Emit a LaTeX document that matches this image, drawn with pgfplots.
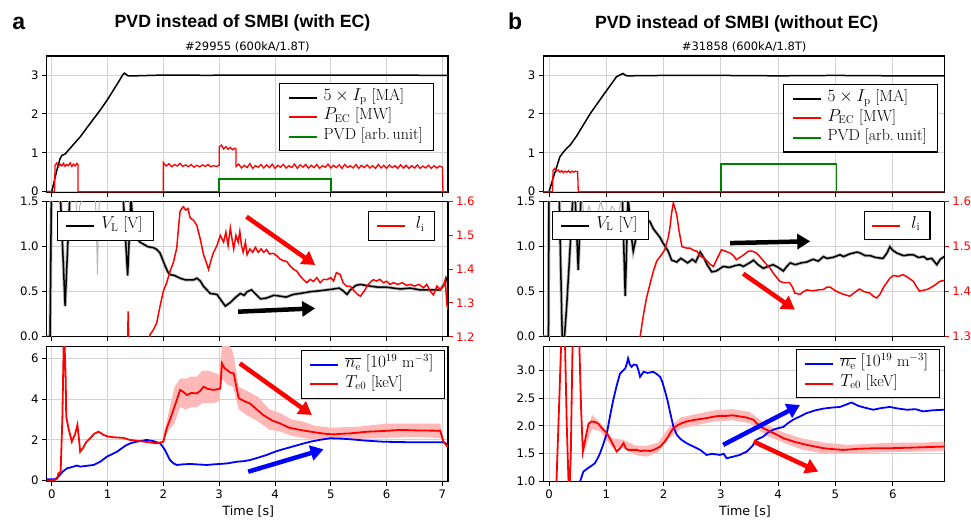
\documentclass[border=0pt]{standalone}
\usepackage{fontspec}
\setsansfont{DejaVu Sans}
\newfontfamily\titlefont{Liberation Sans}
\usepackage{pgfplots}
\usepackage{pgfplotstable}
\pgfplotsset{compat=1.18}
\usepgfplotslibrary{fillbetween}
\usetikzlibrary{arrows.meta}

% ---------------- data ----------------
\pgfplotstableread{
t v
-0.09 0
0.0 0
0.05 0.3
0.1 0.6
0.15 0.85
0.18 0.93
0.24 0.97
0.35 1.15
0.51 1.41
0.69 1.76
0.87 2.10
1.0 2.37
1.1 2.6
1.2 2.83
1.27 3.0
1.30 3.05
1.33 3.02
1.37 2.98
1.5 2.98
2.0 3.0
2.5 3.0
2.8 2.99
3.0 3.0
4.0 3.0
5.0 3.0
6.0 3.0
7.1 2.99
}\IpL
\pgfplotstableread{
t v
-0.09 0
0.05 0
0.06 0.68
0.09 0.74
0.12 0.64
0.15 0.71
0.18 0.66
0.21 0.73
0.24 0.65
0.27 0.70
0.30 0.67
0.33 0.74
0.36 0.65
0.39 0.71
0.42 0.66
0.45 0.73
0.47 0.70
0.47 0
2.0 0
2.0 0.75
2.05 0.66
2.1 0.72
2.15 0.64
2.2 0.70
2.25 0.66
2.3 0.73
2.35 0.65
2.4 0.69
2.45 0.64
2.5 0.70
2.55 0.63
2.6 0.68
2.65 0.64
2.7 0.69
2.75 0.65
2.8 0.70
2.85 0.64
2.9 0.67
2.95 0.65
3.0 0.68
3.0 1.15
3.04 1.2
3.08 1.1
3.12 1.16
3.16 1.09
3.2 1.14
3.24 1.08
3.28 1.12
3.3 1.1
3.3 0.65
3.35 0.71
3.4 0.61
3.45 0.68
3.5 0.62
3.55 0.72
3.6 0.60
3.65 0.67
3.7 0.63
3.75 0.70
3.8 0.61
3.85 0.69
3.9 0.62
3.95 0.71
4.0 0.60
4.05 0.68
4.1 0.63
4.15 0.70
4.2 0.61
4.25 0.67
4.3 0.62
4.35 0.71
4.4 0.60
4.45 0.69
4.5 0.63
4.55 0.70
4.6 0.61
4.65 0.68
4.7 0.62
4.75 0.70
4.8 0.60
4.85 0.67
4.9 0.63
4.95 0.71
5.0 0.61
5.05 0.68
5.1 0.62
5.15 0.69
5.2 0.60
5.25 0.70
5.3 0.62
5.35 0.67
5.4 0.61
5.45 0.70
5.5 0.60
5.55 0.68
5.6 0.62
5.65 0.69
5.7 0.61
5.75 0.67
5.8 0.60
5.85 0.70
5.9 0.61
5.95 0.68
6.0 0.60
6.05 0.69
6.1 0.62
6.15 0.67
6.2 0.60
6.25 0.69
6.3 0.61
6.35 0.68
6.4 0.60
6.45 0.67
6.5 0.61
6.55 0.69
6.6 0.60
6.65 0.66
6.7 0.61
6.75 0.68
6.8 0.60
6.85 0.67
6.9 0.61
6.95 0.66
7.0 0.63
7.01 0
7.1 0
}\PecL
\pgfplotstableread{
t v
2.0 0
3.0 0
3.0 0.33
5.0 0.33
5.0 0
7.1 0
}\PvdL
\pgfplotstableread{
t v
-0.02 0
0.0 0
0.08 0.39
0.19 0.9
0.24 1.0
0.31 1.12
0.37 1.2
0.49 1.45
0.6 1.72
0.72 2.01
0.95 2.49
1.18 2.96
1.29 3.04
1.33 3.0
1.36 2.98
2 2.99
3 2.99
4 2.98
5 2.99
6 2.98
6.9 2.98
}\IpR
\pgfplotstableread{
t v
-0.1 0
0.06 0
0.07 0.55
0.10 0.60
0.13 0.53
0.16 0.56
0.19 0.50
0.22 0.54
0.25 0.49
0.28 0.53
0.31 0.50
0.34 0.54
0.37 0.49
0.40 0.53
0.43 0.50
0.46 0.53
0.50 0.51
0.51 0
6.9 0
}\PecR
\pgfplotstableread{
t v
2.0 0
3.0 0
3.0 0.71
5.02 0.71
5.02 0
6.9 0
}\PvdR
% loop voltage, left
\pgfplotstableread{
t v
-0.1 0
-0.03 0
0.0 2.0
0.08 1.8
0.16 1.5
0.24 0.34
0.32 1.5
0.40 1.9
0.8 1.8
1.28 1.55
1.36 0.68
1.42 1.55
1.46 1.2
1.52 1.10
1.58 1.05
1.64 1.03
1.72 1.0
1.82 0.99
1.88 0.97
1.94 0.93
2.03 0.79
2.08 0.72
2.12 0.69
2.2 0.68
2.3 0.65
2.4 0.63
2.54 0.63
2.6 0.65
2.66 0.62
2.72 0.56
2.84 0.48
2.96 0.47
3.04 0.40
3.11 0.34
3.2 0.38
3.3 0.44
3.38 0.48
3.45 0.46
3.5 0.50
3.58 0.52
3.66 0.47
3.74 0.42
3.85 0.43
3.98 0.46
4.1 0.45
4.2 0.44
4.33 0.47
4.45 0.48
4.63 0.50
4.8 0.51
4.93 0.52
5.05 0.53
5.15 0.54
5.22 0.51
5.29 0.47
5.35 0.52
5.45 0.57
5.53 0.58
5.63 0.57
5.73 0.56
5.85 0.55
6.0 0.55
6.12 0.54
6.25 0.53
6.42 0.54
6.6 0.52
6.8 0.52
6.96 0.52
7.05 0.6
7.08 0.65
7.1 0.67
}\VlL
\pgfplotstableread{
t v
1.30 1.1
1.35 1.1
1.37 1.275
1.39 1.1
1.70 1.1
1.76 1.206
1.82 1.22
1.88 1.24
1.94 1.29
2.0 1.335
2.06 1.36
2.12 1.394
2.18 1.42
2.24 1.463
2.27 1.52
2.30 1.572
2.33 1.58
2.36 1.585
2.40 1.575
2.44 1.58
2.48 1.552
2.54 1.545
2.6 1.53
2.66 1.49
2.72 1.443
2.77 1.42
2.81 1.399
2.86 1.43
2.9 1.45
2.96 1.47
3.02 1.50
3.08 1.48
3.12 1.51
3.16 1.47
3.2 1.522
3.23 1.49
3.26 1.46
3.3 1.50
3.34 1.48
3.37 1.512
3.40 1.47
3.43 1.45
3.47 1.48
3.5 1.443
3.55 1.46
3.6 1.45
3.65 1.465
3.7 1.45
3.75 1.46
3.8 1.45
3.85 1.458
3.9 1.445
3.97 1.447
4.03 1.44
4.09 1.43
4.15 1.425
4.21 1.423
4.27 1.41
4.33 1.40
4.39 1.394
4.45 1.38
4.51 1.369
4.57 1.36
4.63 1.37
4.69 1.364
4.75 1.375
4.81 1.36
4.87 1.37
4.93 1.369
5.0 1.375
5.05 1.365
5.1 1.39
5.17 1.384
5.22 1.36
5.28 1.35
5.35 1.349
5.42 1.335
5.48 1.325
5.53 1.32
5.6 1.335
5.65 1.35
5.7 1.36
5.76 1.369
5.82 1.365
5.88 1.37
5.94 1.36
6.0 1.364
6.06 1.355
6.12 1.36
6.2 1.355
6.28 1.36
6.36 1.352
6.42 1.355
6.5 1.35
6.58 1.355
6.66 1.345
6.72 1.355
6.78 1.335
6.84 1.324
6.9 1.35
6.96 1.34
7.02 1.35
7.05 1.369
7.08 1.295
7.1 1.28
}\LiL
\pgfplotstableread{
t v
-0.1 0
-0.01 0
0.0 1.9
0.1 1.7
0.18 1.5
0.23 0
0.27 0.0
0.31 0.36
0.36 0.9
0.42 1.6
0.46 1.5
0.51 0.74
0.56 1.6
0.9 1.7
1.28 1.55
1.33 0.45
1.38 1.55
1.44 1.1
1.47 0.95
1.53 1.13
1.58 1.2
1.65 1.32
1.70 1.3
1.76 1.28
1.82 1.2
1.88 1.15
1.94 1.1
1.99 1.04
2.08 0.95
2.14 0.85
2.23 0.83
2.30 0.87
2.35 0.85
2.42 0.82
2.5 0.86
2.56 0.83
2.64 0.94
2.70 0.88
2.76 0.8
2.84 0.72
2.92 0.73
3.04 0.78
3.15 0.77
3.25 0.79
3.33 0.80
3.39 0.78
3.5 0.82
3.57 0.85
3.65 0.80
3.74 0.76
3.82 0.78
3.91 0.80
4.0 0.77
4.09 0.73
4.15 0.78
4.21 0.82
4.3 0.80
4.4 0.82
4.5 0.83
4.61 0.86
4.7 0.84
4.79 0.89
4.85 0.87
4.95 0.88
5.08 0.91
5.14 0.89
5.25 0.92
5.38 0.94
5.43 0.93
5.52 0.90
5.61 0.9
5.7 0.88
5.83 0.87
5.9 0.93
5.95 1.0
6.0 0.96
6.07 0.93
6.19 0.9
6.28 0.91
6.36 0.91
6.45 0.88
6.54 0.89
6.6 0.86
6.68 0.87
6.77 0.80
6.83 0.86
6.9 0.89
}\VlR
\pgfplotstableread{
t v
1.50 1.25
1.59 1.3
1.65 1.35
1.70 1.385
1.76 1.416
1.82 1.445
1.88 1.468
1.95 1.48
2.02 1.493
2.08 1.52
2.11 1.542
2.14 1.575
2.17 1.597
2.20 1.585
2.23 1.57
2.27 1.535
2.32 1.50
2.40 1.497
2.46 1.497
2.52 1.492
2.58 1.49
2.64 1.479
2.70 1.475
2.76 1.468
2.82 1.46
2.87 1.456
2.94 1.475
3.01 1.493
3.08 1.49
3.16 1.486
3.22 1.48
3.27 1.471
3.33 1.476
3.40 1.482
3.48 1.49
3.55 1.49
3.62 1.486
3.70 1.475
3.80 1.46
3.86 1.452
3.91 1.442
3.97 1.432
4.03 1.423
4.1 1.42
4.2 1.42
4.25 1.41
4.29 1.397
4.38 1.394
4.44 1.40
4.50 1.404
4.6 1.402
4.7 1.404
4.79 1.405
4.85 1.41
4.91 1.41
5.0 1.402
5.08 1.397
5.17 1.393
5.25 1.39
5.33 1.398
5.42 1.406
5.5 1.40
5.6 1.397
5.66 1.39
5.72 1.386
5.78 1.395
5.84 1.41
5.89 1.419
5.95 1.43
6.01 1.436
6.1 1.434
6.18 1.438
6.26 1.432
6.36 1.423
6.42 1.41
6.47 1.401
6.53 1.403
6.6 1.405
6.65 1.408
6.74 1.415
6.82 1.423
6.9 1.425
}\LiR
% density and temperature, left
\pgfplotstableread{
t v
-0.09 0.07
0.06 0.07
0.12 0.2
0.2 0.45
0.27 0.6
0.35 0.66
0.45 0.74
0.51 0.69
0.6 0.72
0.75 0.77
0.87 0.93
0.99 1.18
1.08 1.3
1.17 1.42
1.26 1.6
1.34 1.75
1.43 1.85
1.52 1.91
1.61 1.95
1.70 2.0
1.82 1.94
1.94 1.83
1.98 1.7
2.03 1.5
2.08 1.22
2.12 1.01
2.18 0.85
2.24 0.77
2.35 0.80
2.48 0.82
2.6 0.8
2.78 0.77
2.9 0.80
3.02 0.82
3.15 0.85
3.32 0.93
3.45 0.96
3.55 1.01
3.7 1.13
3.85 1.26
4.0 1.42
4.09 1.5
4.21 1.59
4.4 1.74
4.63 1.91
4.8 2.0
4.99 2.08
5.2 2.06
5.35 2.03
5.6 1.97
5.94 1.91
6.3 1.89
6.7 1.88
7.02 1.88
7.08 1.8
7.1 1.78
}\NeL
\pgfplotstableread{
t v
-0.09 0.0
0.05 0.03
0.1 0.1
0.12 0.36
0.16 0.44
0.19 3.0
0.22 7.5
0.25 5.0
0.26 3.14
0.30 2.57
0.36 1.91
0.42 2.3
0.46 2.73
0.49 2.0
0.51 1.42
0.56 1.6
0.62 1.9
0.69 2.08
0.76 2.3
0.84 2.40
0.9 2.3
0.93 2.24
1.0 2.17
1.10 2.13
1.28 2.1
1.40 2.0
1.58 1.94
1.75 1.88
1.88 1.83
2.0 1.91
2.06 2.57
2.12 3.0
2.18 3.47
2.24 3.95
2.30 4.45
2.36 4.35
2.42 4.2
2.5 4.3
2.60 4.28
2.66 4.4
2.72 4.61
2.8 4.5
2.90 4.45
3.0 4.5
3.02 4.53
3.05 5.75
3.1 5.5
3.14 5.43
3.2 5.3
3.26 5.26
3.32 4.45
3.35 4.04
3.45 3.9
3.55 3.79
3.67 3.5
3.79 3.22
3.95 2.95
4.09 2.81
4.25 2.6
4.45 2.49
4.6 2.42
4.74 2.36
4.9 2.3
5.05 2.27
5.2 2.3
5.35 2.32
5.5 2.36
5.65 2.40
5.9 2.43
6.24 2.49
6.6 2.46
6.96 2.45
7.02 1.91
7.08 1.7
7.1 1.68
}\TeL
\pgfplotstableread{
t lo hi
1.98 1.85 1.97
2.1 2.5 3.4
2.2 2.8 4.6
2.3 3.6 5.0
2.4 3.5 5.0
2.5 3.6 5.1
2.6 3.6 5.1
2.7 3.8 5.4
2.8 3.8 5.4
2.9 3.8 5.3
3.0 3.9 5.2
3.05 5.0 6.6
3.15 4.7 6.8
3.25 4.6 6.3
3.35 3.5 4.6
3.5 3.2 4.4
3.7 2.9 4.1
3.9 2.5 3.5
4.1 2.4 3.3
4.3 2.2 3.0
4.5 2.1 2.9
4.7 2.0 2.7
5.0 2.0 2.6
5.5 2.05 2.65
6.0 2.1 2.8
6.5 2.15 2.8
6.96 2.1 2.8
7.02 1.9 1.95
}\BandL
% density and temperature, right
\pgfplotstableread{
t v
0.45 0.8
0.54 1.0
0.60 1.18
0.66 1.23
0.72 1.27
0.80 1.33
0.85 1.42
0.89 1.51
0.95 1.68
1.01 1.87
1.06 2.15
1.12 2.46
1.18 2.72
1.24 2.94
1.28 2.98
1.33 3.03
1.36 3.12
1.38 3.21
1.41 3.1
1.44 3.06
1.48 3.1
1.53 3.09
1.56 3.0
1.59 2.88
1.65 2.97
1.72 2.95
1.82 2.97
1.88 2.93
1.94 2.88
1.98 2.78
2.02 2.64
2.07 2.45
2.11 2.26
2.17 1.99
2.23 1.84
2.30 1.76
2.40 1.69
2.52 1.63
2.64 1.57
2.75 1.48
2.85 1.5
2.98 1.48
3.05 1.5
3.10 1.42
3.22 1.45
3.33 1.48
3.45 1.54
3.55 1.64
3.62 1.75
3.74 1.81
3.82 1.88
3.91 1.93
4.0 1.96
4.09 1.98
4.17 2.05
4.26 2.11
4.38 2.17
4.50 2.23
4.65 2.28
4.79 2.31
4.95 2.33
5.08 2.34
5.18 2.38
5.28 2.42
5.4 2.36
5.5 2.33
5.66 2.29
5.8 2.32
5.95 2.34
6.1 2.31
6.25 2.29
6.4 2.3
6.53 2.26
6.7 2.28
6.9 2.29
}\NeR
\pgfplotstableread{
t v
-0.05 0.0
0.10 0.5
0.13 1.0
0.17 2.2
0.21 3.42
0.245 4.3
0.28 3.42
0.31 2.0
0.34 1.0
0.36 0.9
0.38 1.5
0.41 3.42
0.47 4.4
0.53 3.42
0.56 2.3
0.59 1.54
0.64 1.8
0.69 2.04
0.74 2.08
0.80 2.07
0.86 2.04
0.93 1.95
1.01 1.87
1.10 1.7
1.18 1.54
1.24 1.6
1.30 1.69
1.34 1.6
1.38 1.57
1.45 1.57
1.53 1.57
1.6 1.55
1.68 1.56
1.76 1.55
1.85 1.58
1.94 1.63
2.02 1.72
2.08 1.81
2.13 1.9
2.17 1.96
2.24 2.01
2.32 2.05
2.40 2.08
2.55 2.11
2.75 2.14
2.9 2.17
2.98 2.18
3.1 2.18
3.2 2.19
3.33 2.17
3.45 2.15
3.57 2.11
3.62 2.05
3.72 1.97
3.86 1.90
4.0 1.83
4.09 1.78
4.3 1.71
4.5 1.66
4.79 1.60
5.0 1.58
5.14 1.57
5.4 1.59
5.7 1.60
5.95 1.60
6.3 1.61
6.6 1.62
6.9 1.63
}\TeR
\pgfplotstableread{
t lo hi
0.6 1.5 1.6
0.75 1.95 2.2
0.9 1.9 2.05
1.1 1.62 1.78
1.3 1.6 1.75
1.5 1.48 1.65
1.7 1.45 1.64
1.9 1.52 1.7
2.1 1.78 1.98
2.3 1.95 2.15
2.6 2.02 2.22
2.9 2.08 2.28
3.2 2.1 2.3
3.5 2.05 2.25
3.8 1.82 2.02
4.1 1.7 1.88
4.4 1.58 1.78
4.8 1.5 1.7
5.2 1.5 1.66
5.6 1.52 1.68
6.0 1.53 1.7
6.5 1.54 1.7
6.9 1.55 1.72
}\BandR

\tikzset{arr/.style={line width=4.5pt, -{Triangle[length=13pt,width=15pt]}}}
\pgfplotsset{
  leg/.style={
    legend cell align=left,
    legend style={font=\fontsize{16}{18}\selectfont\rmfamily, draw=black, line width=1.2pt, fill=white,
      inner xsep=8pt, inner ysep=6pt, row sep=3pt,
      nodes={inner sep=3pt, text depth=0.25em, text height=0.8em},
      /tikz/every odd column/.append style={column sep=3pt}},
    legend image code/.code={\draw[#1, line width=2pt] (0pt,0pt) -- (28pt,0pt);},
  },
  mpl/.style={
    scale only axis, height=135pt,
    axis line style={line width=1.1pt},
    grid=major, major grid style={line width=0.9pt, color=black!18},
    tick align=outside, major tick length=4.5pt,
    tick style={black, line width=0.9pt},
    xtick pos=bottom, ytick pos=left,
    tick label style={font=\fontsize{11.7}{13}\selectfont\sffamily},
    /pgf/number format/assume math mode=true,
    leg,
  },
  lcol/.style={xmin=-0.09, xmax=7.1, xtick={0,1,2,3,4,5,6,7}, width=401.3pt},
  rcol/.style={xmin=-0.1, xmax=6.9, xtick={0,1,2,3,4,5,6}, width=401pt},
  noxlab/.style={xticklabels={}},
  onedec/.style={yticklabel style={/pgf/number format/fixed, /pgf/number format/fixed zerofill, /pgf/number format/precision=1}},
  twin/.style={
    scale only axis, height=135pt, axis x line=none, axis y line*=right,
    ytick pos=right, tick align=outside, major tick length=4.5pt,
    tick style={red, line width=0.9pt}, axis line style={line width=1.1pt},
    yticklabel style={red, font=\fontsize{11.7}{13}\selectfont\sffamily},
    /pgf/number format/assume math mode=true,
    leg, onedec,
  },
}

\begin{document}
\begin{tikzpicture}[x=1pt,y=1pt]
% ================= LEFT COLUMN =================
\begin{axis}[mpl, lcol, noxlab, at={(46.7pt,328.5pt)}, anchor=south west, height=136.5pt,
  ymin=-0.02, ymax=3.49, ytick={0,1,2,3},
  legend style={at={(0.966,0.804)}, anchor=north east}]
\addplot[black, line width=1.5pt] table[x=t,y=v]{\IpL};
\addlegendentry{$5\times I_\mathrm{p}$ [MA]}
\addplot[red, line width=1.3pt] table[x=t,y=v]{\PecL};
\addlegendentry{$P_\mathrm{EC}$ [MW]}
\addplot[black!50!green, line width=1.5pt] table[x=t,y=v]{\PvdL};
\addlegendentry{PVD [arb.\,unit]}
\end{axis}

\begin{axis}[mpl, lcol, noxlab, at={(46.7pt,184.3pt)}, anchor=south west,
  ymin=0, ymax=1.5, ytick={0,0.5,1,1.5}, onedec,
  legend style={at={(0.025,0.931)}, anchor=north west}]
\addplot[black!28, line width=3.2pt, forget plot] table[x=t,y=v]{\VlL};
\addplot[black!28, line width=1pt, forget plot] coordinates {(0.42,1.6) (0.46,1.3) (0.48,1.07) (0.50,1.45) (0.6,1.6)};
\addplot[black!28, line width=1pt, forget plot] coordinates {(0.78,1.6) (0.80,1.2) (0.82,0.69) (0.84,1.3) (0.86,1.6)};
\addplot[black, line width=1.5pt] table[x=t,y=v]{\VlL};
\addlegendentry{$V_\mathrm{L}$ [V]}
\end{axis}
\begin{axis}[twin, lcol, at={(46.7pt,184.3pt)}, anchor=south west,
  ymin=1.2, ymax=1.6, ytick={1.2,1.3,1.4,1.5,1.6},
  legend style={at={(0.9676,0.931)}, anchor=north east, inner xsep=7pt, /tikz/every odd column/.append style={column sep=7pt}}]
\addplot[red, line width=1.5pt] table[x=t,y=v]{\LiL};
\addlegendentry{$l_\mathrm{i}$}
\draw[arr, red] (axis cs:3.49,1.5555) -- (axis cs:4.72,1.4125);
\draw[arr, black] (axis cs:3.34,1.2741) -- (axis cs:4.72,1.284);
\end{axis}

\begin{axis}[mpl, lcol, at={(46.7pt,39.3pt)}, anchor=south west,
  ymin=-0.05, ymax=6.57, ytick={0,2,4,6},
  legend style={at={(0.9925,0.976)}, anchor=north east}]
\addplot[draw=none, name path=BLlo, forget plot] table[x=t,y=lo]{\BandL};
\addplot[draw=none, name path=BLhi, forget plot] table[x=t,y=hi]{\BandL};
\addplot[red!28, forget plot] fill between[of=BLlo and BLhi];
\addplot[blue, line width=1.8pt] table[x=t,y=v]{\NeL};
\addlegendentry{$\overline{n_\mathrm{e}}$ $[10^{19}\ \mathrm{m}^{-3}]$}
\addplot[red, line width=1.8pt] table[x=t,y=v]{\TeL};
\addlegendentry{$T_\mathrm{e0}$ [keV]}
\draw[arr, red] (axis cs:3.37,5.75) -- (axis cs:4.66,3.22);
\draw[arr, blue] (axis cs:3.52,0.44) -- (axis cs:4.87,1.54);
\end{axis}

% ================= RIGHT COLUMN =================
\begin{axis}[mpl, rcol, noxlab, at={(543.3pt,328.5pt)}, anchor=south west, height=136.5pt,
  ymin=-0.02, ymax=3.49, ytick={0,1,2,3},
  legend style={at={(0.985,0.795)}, anchor=north east}]
\addplot[black, line width=1.5pt] table[x=t,y=v]{\IpR};
\addlegendentry{$5\times I_\mathrm{p}$ [MA]}
\addplot[red, line width=1.3pt] table[x=t,y=v]{\PecR};
\addlegendentry{$P_\mathrm{EC}$ [MW]}
\addplot[black!50!green, line width=1.5pt] table[x=t,y=v]{\PvdR};
\addlegendentry{PVD [arb.\,unit]}
\end{axis}

\begin{axis}[mpl, rcol, noxlab, at={(543.3pt,184.3pt)}, anchor=south west,
  ymin=0, ymax=1.5, ytick={0,0.5,1,1.5}, onedec,
  legend style={at={(0.021,0.933)}, anchor=north west}]
\addplot[black!28, line width=3.2pt, forget plot] table[x=t,y=v]{\VlR};
\addplot[black!28, line width=1pt, forget plot] coordinates {(0.56,1.6) (0.62,1.3) (0.7,1.45) (0.8,1.25) (0.9,1.5) (1.0,1.3) (1.1,1.45) (1.2,1.35) (1.3,1.6)};
\addplot[black, line width=1.5pt] table[x=t,y=v]{\VlR};
\addlegendentry{$V_\mathrm{L}$ [V]}
\end{axis}
\begin{axis}[twin, rcol, at={(543.3pt,184.3pt)}, anchor=south west,
  ymin=1.3, ymax=1.6, ytick={1.3,1.4,1.5,1.6},
  legend style={at={(0.966,0.933)}, anchor=north east, inner xsep=7pt, /tikz/every odd column/.append style={column sep=7pt}}]
\addplot[red, line width=1.5pt] table[x=t,y=v]{\LiR};
\addlegendentry{$l_\mathrm{i}$}
\draw[arr, black] (axis cs:3.16,1.508) -- (axis cs:4.56,1.512);
\draw[arr, red] (axis cs:3.39,1.44) -- (axis cs:4.29,1.36);
\end{axis}

\begin{axis}[mpl, rcol, at={(543.3pt,39.3pt)}, anchor=south west,
  ymin=1.0, ymax=3.42, ytick={1,1.5,2,2.5,3}, onedec,
  legend style={at={(0.989,0.981)}, anchor=north east}]
\addplot[draw=none, name path=BRlo, forget plot] table[x=t,y=lo]{\BandR};
\addplot[draw=none, name path=BRhi, forget plot] table[x=t,y=hi]{\BandR};
\addplot[red!28, forget plot] fill between[of=BRlo and BRhi];
\addplot[blue, line width=1.8pt] table[x=t,y=v]{\NeR};
\addlegendentry{$\overline{n_\mathrm{e}}$ $[10^{19}\ \mathrm{m}^{-3}]$}
\addplot[red, line width=1.8pt] table[x=t,y=v]{\TeR};
\addlegendentry{$T_\mathrm{e0}$ [keV]}
\draw[arr, blue] (axis cs:3.04,1.66) -- (axis cs:4.38,2.375);
\draw[arr, red] (axis cs:3.57,1.72) -- (axis cs:4.70,1.18);
\end{axis}

% ================= TEXT =================
\node[anchor=base west, inner sep=0] at (12.3,491) {\titlefont\bfseries\fontsize{23}{26}\selectfont a};
\node[anchor=base west, inner sep=0] at (508,491) {\titlefont\bfseries\fontsize{23}{26}\selectfont b};
\node[anchor=base, inner sep=0] at (242.5,493.7) {\titlefont\bfseries\fontsize{17.7}{20}\selectfont PVD instead of SMBI (with EC)};
\node[anchor=base, inner sep=0] at (736.7,492.7) {\titlefont\bfseries\fontsize{17.7}{20}\selectfont PVD instead of SMBI (without EC)};
\node[anchor=base, inner sep=0] at (247.3,470.3) {\sffamily\fontsize{11.5}{13}\selectfont \#29955 (600kA/1.8T)};
\node[anchor=base, inner sep=0] at (744.2,470.3) {\sffamily\fontsize{11.5}{13}\selectfont \#31858 (600kA/1.8T)};
\node[anchor=base, inner sep=0] at (248.3,5.5) {\sffamily\fontsize{12.7}{14}\selectfont Time [s]};
\node[anchor=base, inner sep=0] at (745,5.5) {\sffamily\fontsize{12.7}{14}\selectfont Time [s]};

\pgfresetboundingbox
\useasboundingbox (0,0) rectangle (971,521);
\end{tikzpicture}
\end{document}
